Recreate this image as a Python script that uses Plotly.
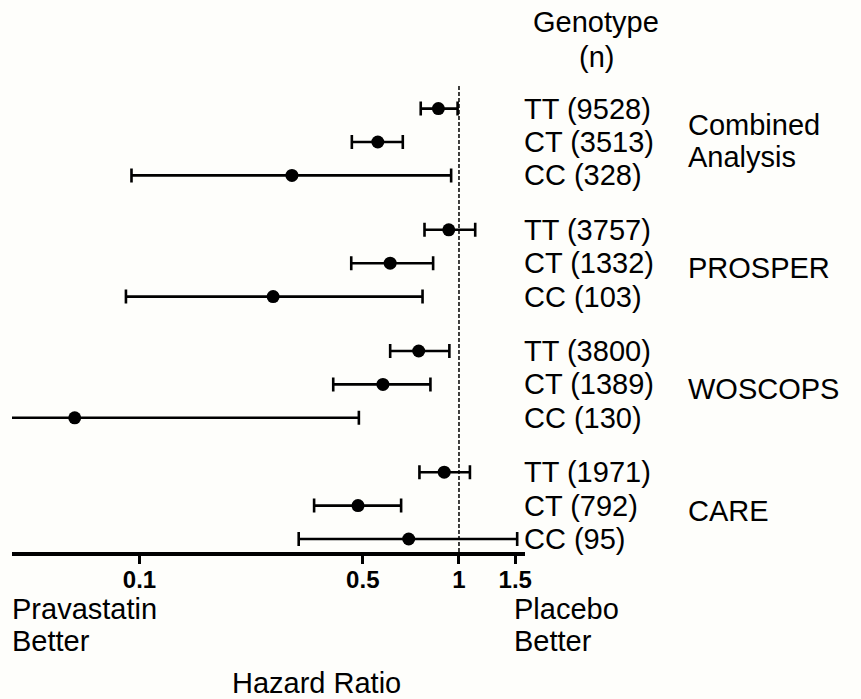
import plotly.graph_objects as go

# ---- data ----
studies = ["Combined Analysis", "PROSPER", "WOSCOPS", "CARE"]
genotype_labels = [
    "TT (9528)", "CT (3513)", "CC (328)",
    "TT (3757)", "CT (1332)", "CC (103)",
    "TT (3800)", "CT (1389)", "CC (130)",
    "TT (1971)", "CT (792)", "CC (95)",
]
hr = [0.862, 0.557, 0.300,
      0.929, 0.609, 0.262,
      0.748, 0.578, 0.0627,
      0.899, 0.483, 0.696]
ci_low = [0.759, 0.462, 0.0944,
          0.780, 0.460, 0.0907,
          0.609, 0.404, 0.015,
          0.752, 0.352, 0.315]
ci_high = [0.990, 0.667, 0.945,
           1.124, 0.830, 0.769,
           0.933, 0.814, 0.486,
           1.082, 0.659, 1.521]
tick_vals = [0.1, 0.5, 1, 1.5]
tick_text = ["0.1", "0.5", "1", "1.5"]

# row positions (three rows per study, gap between studies)
group_step = 3.63
row_pos = [g * group_step + r for g in range(4) for r in range(3)]

FONT = "Liberation Sans, Arial, sans-serif"
BG = "#fefefb"
FS = 29

# plot area geometry in pixels
W, H = 861, 699
L, R, T, B = 12, 525, 85, 552
pw, ph = R - L, B - T


def px_x(px):
    return (px - L) / pw


def px_y(py):
    return (B - py) / ph


fig = go.Figure()
fig.add_trace(go.Scatter(
    x=hr, y=row_pos, mode="markers",
    marker=dict(color="black", size=13, symbol="circle"),
    error_x=dict(type="data", symmetric=False,
                 array=[h - m for h, m in zip(ci_high, hr)],
                 arrayminus=[m - l for m, l in zip(hr, ci_low)],
                 color="black", thickness=2.6, width=7),
    showlegend=False, hoverinfo="skip",
))

# reference line at HR = 1
fig.add_shape(type="line", xref="x", yref="paper", x0=1, x1=1, y0=0, y1=1,
              line=dict(color="black", width=1.5, dash="4px,2px"))

ann = []
for lab, y in zip(genotype_labels, row_pos):
    ann.append(dict(text=lab, xref="paper", yref="y", x=px_x(522), y=y,
                    xanchor="left", yanchor="middle", showarrow=False,
                    font=dict(size=FS, family=FONT, color="black")))

# study labels (next to the middle row of each group)
ann.append(dict(text="Combined", xref="paper", yref="y", x=px_x(686), y=row_pos[1],
                yshift=17, xanchor="left", yanchor="middle", showarrow=False,
                font=dict(size=FS, family=FONT, color="black")))
ann.append(dict(text="Analysis", xref="paper", yref="y", x=px_x(686), y=row_pos[1],
                yshift=-15, xanchor="left", yanchor="middle", showarrow=False,
                font=dict(size=FS, family=FONT, color="black")))
for g, name in enumerate(studies[1:], start=1):
    ann.append(dict(text=name, xref="paper", yref="y", x=px_x(686), y=row_pos[3 * g + 1],
                    yshift=-5, xanchor="left", yanchor="middle", showarrow=False,
                    font=dict(size=FS, family=FONT, color="black")))

# header
ann.append(dict(text="Genotype", xref="paper", yref="paper", x=px_x(596), y=px_y(22),
                xanchor="center", yanchor="middle", showarrow=False,
                font=dict(size=FS, family=FONT, color="black")))
ann.append(dict(text="(n)", xref="paper", yref="paper", x=px_x(596), y=px_y(57),
                xanchor="center", yanchor="middle", showarrow=False,
                font=dict(size=FS, family=FONT, color="black")))

# bottom captions
for txt, xp, yp, anchor in [("Pravastatin", 10, 609, "left"), ("Better", 10, 641, "left"),
                            ("Placebo", 512, 609, "left"), ("Better", 512, 641, "left"),
                            ("Hazard Ratio", 316, 683, "center")]:
    ann.append(dict(text=txt, xref="paper", yref="paper", x=px_x(xp), y=px_y(yp),
                    xanchor=anchor, yanchor="middle", showarrow=False,
                    font=dict(size=FS, family=FONT, color="black")))

fig.update_layout(
    width=W, height=H,
    margin=dict(l=L, r=W - R, t=T, b=H - B),
    paper_bgcolor=BG, plot_bgcolor=BG,
    annotations=ann,
    xaxis=dict(type="log", range=[-1.399, 0.2066],
               tickvals=tick_vals, ticktext=tick_text,
               ticks="outside", ticklen=8, tickwidth=3, tickcolor="black",
               ticklabelstandoff=-5,
               showline=True, linewidth=4, linecolor="black",
               showgrid=False, zeroline=False,
               tickfont=dict(size=24, family=FONT, color="black", weight="bold")),
    yaxis=dict(range=[13.28, -0.707], visible=False, showgrid=False, zeroline=False),
)

fig.write_html("out.html")
